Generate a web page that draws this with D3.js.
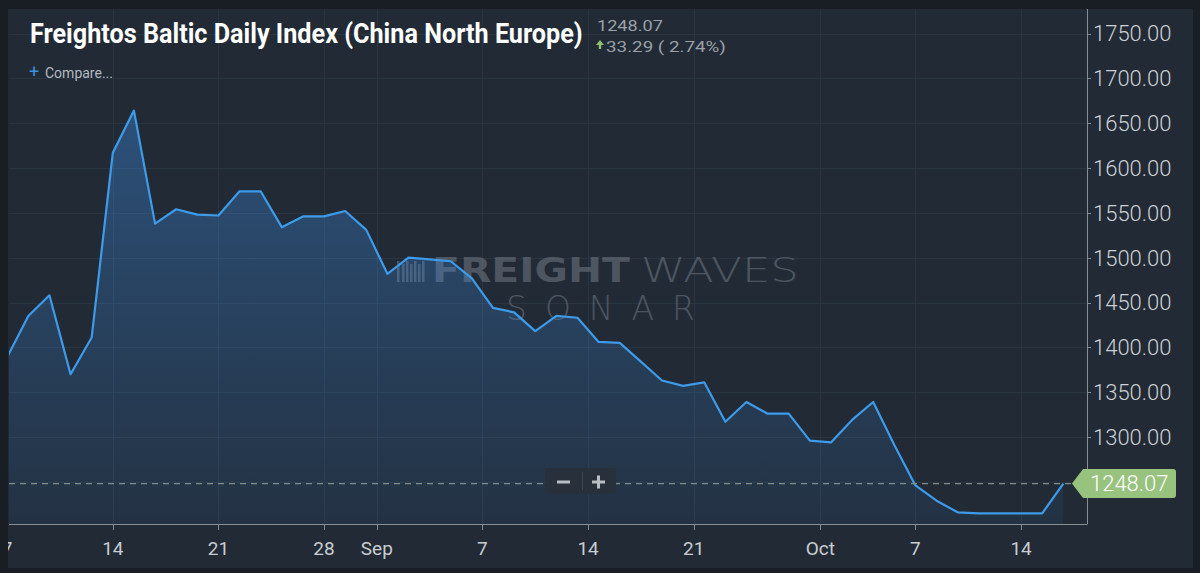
<!DOCTYPE html>
<html>
<head>
<meta charset="utf-8">
<script src="https://cdn.jsdelivr.net/npm/d3@7"></script>
<style>
  html, body { margin: 0; padding: 0; background: #191e24; }
  svg { display: block; }
</style>
</head>
<body>
<svg id="chart" width="1200" height="573"></svg>
<script>
// FBX China - North Europe, one value per trading day (index order)
const values = [
  1389, 1435, 1458, 1370, 1411, 1617, 1664, 1538, 1554, 1548,
  1547, 1574, 1574, 1534, 1546, 1546, 1552, 1531, 1482, 1500,
  1498, 1496, 1477, 1444, 1439, 1418, 1435, 1433, 1406, 1405,
  1384, 1363, 1357, 1361, 1317, 1339, 1326, 1326, 1296, 1294,
  1319, 1339, 1291, 1246, 1229, 1216, 1214.78, 1214.78, 1214.78, 1214.78,
  1248.07,
];

// x tick labels and where they fall on the trading-day index
const tickLabels = ['7', '14', '21', '28', 'Sep', '7', '14', '21', 'Oct', '7', '14'];
const tickIndex = [0, 5, 10, 15, 17.5, 22.5, 27.5, 32.5, 38.5, 43, 48];

const yTicks = [1300, 1350, 1400, 1450, 1500, 1550, 1600, 1650, 1700, 1750];

const lastValue = 1248.07;
const change = 33.29;
const changePct = 2.74;

const svg = d3.select('#chart');

const plot = { left: 9, right: 1087, top: 9, bottom: 524 };

const xScale = d3.scaleLinear()
  .domain([0, values.length - 1])
  .range([7.2, 1063.3]);

const yScale = d3.scaleLinear()
  .domain([1300, 1750])
  .range([437, 33.5]);

// squeeze a text horizontally so it is exactly `width` wide
function fitText(sel, x, y, width) {
  const len = sel.node().getComputedTextLength();
  sel.attr('transform', `translate(${x},${y}) scale(${width / len},1)`);
  return sel;
}

// panel
svg.append('rect')
  .attr('x', 8).attr('y', 9)
  .attr('width', 1185).attr('height', 559)
  .attr('fill', '#212a35');

const defs = svg.append('defs');
defs.append('clipPath').attr('id', 'plotClip')
  .append('rect')
  .attr('x', plot.left).attr('y', plot.top)
  .attr('width', plot.right - plot.left)
  .attr('height', plot.bottom - plot.top);

defs.append('clipPath').attr('id', 'panelClip')
  .append('rect')
  .attr('x', 8).attr('y', 9)
  .attr('width', 1185).attr('height', 559);

const grad = defs.append('linearGradient')
  .attr('id', 'areaFill')
  .attr('gradientUnits', 'userSpaceOnUse')
  .attr('x1', 0).attr('x2', 0)
  .attr('y1', yScale(d3.max(values)))
  .attr('y2', plot.bottom);
grad.append('stop').attr('offset', 0).attr('stop-color', '#3d8be0').attr('stop-opacity', 0.4);
grad.append('stop').attr('offset', 1).attr('stop-color', '#3d8be0').attr('stop-opacity', 0.08);

// grid
const grid = svg.append('g').attr('clip-path', 'url(#plotClip)');
grid.selectAll('line.h')
  .data([1250].concat(yTicks))
  .enter()
  .append('line')
  .attr('x1', plot.left).attr('x2', plot.right)
  .attr('y1', (d) => Math.round(yScale(d)) + 0.5)
  .attr('y2', (d) => Math.round(yScale(d)) + 0.5)
  .attr('stroke', '#2a3542');
grid.selectAll('line.v')
  .data(tickIndex)
  .enter()
  .append('line')
  .attr('y1', plot.top).attr('y2', plot.bottom)
  .attr('x1', (d) => Math.round(xScale(d)) + 0.5)
  .attr('x2', (d) => Math.round(xScale(d)) + 0.5)
  .attr('stroke', '#2a3542');

// watermark
const wm = svg.append('g').attr('opacity', 0.6);
[0, 5, 9, 13, 17, 21, 25].forEach((dx, i) => {
  wm.append('rect')
    .attr('x', 397 + dx).attr('y', 261 + (i % 2) * 3)
    .attr('width', 2.5).attr('height', 21 - (i % 2) * 3)
    .attr('fill', '#6b737d');
});
fitText(wm.append('text')
  .style('font', '900 33px "DejaVu Sans"')
  .attr('fill', '#6b737d')
  .text('FREIGHT'), 432, 282, 198);
fitText(wm.append('text')
  .style('font', '200 33px "DejaVu Sans"')
  .attr('fill', '#6b737d')
  .text('WAVES'), 641, 282, 158);
wm.append('text')
  .attr('x', 506).attr('y', 320)
  .attr('textLength', 189).attr('lengthAdjust', 'spacing')
  .style('font', '200 33px "DejaVu Sans"')
  .attr('fill', '#6b737d')
  .text('SONAR');

// area + line
const series = svg.append('g').attr('clip-path', 'url(#plotClip)');

const area = d3.area()
  .x((d, i) => xScale(i))
  .y0(plot.bottom)
  .y1((d) => yScale(d));

const line = d3.line()
  .x((d, i) => xScale(i))
  .y((d) => yScale(d));

series.append('path')
  .datum(values)
  .attr('d', area)
  .attr('fill', 'url(#areaFill)');

series.append('path')
  .datum(values)
  .attr('d', line)
  .attr('fill', 'none')
  .attr('stroke', '#3d9be9')
  .attr('stroke-width', 2.2)
  .attr('stroke-linejoin', 'round');

// current price dashed line
svg.append('line')
  .attr('x1', plot.left).attr('x2', 1072)
  .attr('y1', yScale(lastValue)).attr('y2', yScale(lastValue))
  .attr('stroke', '#7f8b86')
  .attr('stroke-width', 1.2)
  .attr('stroke-dasharray', '6,5');

// zoom control
const zoomCtl = svg.append('g');
zoomCtl.append('rect')
  .attr('x', 545).attr('y', 468)
  .attr('width', 71).attr('height', 26)
  .attr('rx', 3)
  .attr('fill', '#28313b');
zoomCtl.append('line')
  .attr('x1', 582.5).attr('x2', 582.5)
  .attr('y1', 472).attr('y2', 490)
  .attr('stroke', '#3a444f');
zoomCtl.append('rect')
  .attr('x', 557).attr('y', 480.5)
  .attr('width', 13).attr('height', 3)
  .attr('fill', '#b8bec4');
zoomCtl.append('rect')
  .attr('x', 592).attr('y', 480.5)
  .attr('width', 13).attr('height', 3)
  .attr('fill', '#b8bec4');
zoomCtl.append('rect')
  .attr('x', 597).attr('y', 475.5)
  .attr('width', 3).attr('height', 13)
  .attr('fill', '#b8bec4');

// x axis
const xAxis = svg.append('g').attr('clip-path', 'url(#panelClip)');
xAxis.append('line')
  .attr('x1', plot.left).attr('x2', plot.right)
  .attr('y1', plot.bottom + 0.5).attr('y2', plot.bottom + 0.5)
  .attr('stroke', '#868d94');
xAxis.selectAll('line.tick')
  .data(tickIndex)
  .enter()
  .append('line')
  .attr('x1', (d) => Math.round(xScale(d)) + 0.5)
  .attr('x2', (d) => Math.round(xScale(d)) + 0.5)
  .attr('y1', plot.bottom).attr('y2', plot.bottom + 6)
  .attr('stroke', '#868d94');
xAxis.selectAll('text')
  .data(tickIndex)
  .enter()
  .append('text')
  .attr('x', (d) => xScale(d))
  .attr('y', 555)
  .attr('text-anchor', 'middle')
  .style('font', '19px "Liberation Sans Narrow", "Roboto", sans-serif')
  .attr('fill', '#c9cdd1')
  .text((d, i) => tickLabels[i]);

// y axis
const yAxis = svg.append('g');
yAxis.append('line')
  .attr('x1', plot.right + 0.5).attr('x2', plot.right + 0.5)
  .attr('y1', plot.top).attr('y2', plot.bottom + 0.5)
  .attr('stroke', '#868d94');
yAxis.selectAll('line.tick')
  .data(yTicks)
  .enter()
  .append('line')
  .attr('x1', plot.right).attr('x2', plot.right + 4)
  .attr('y1', (d) => Math.round(yScale(d)) + 0.5)
  .attr('y2', (d) => Math.round(yScale(d)) + 0.5)
  .attr('stroke', '#868d94');
yAxis.selectAll('text')
  .data(yTicks)
  .enter()
  .append('text')
  .attr('x', 1093)
  .attr('y', (d) => yScale(d))
  .attr('dy', '0.36em')
  .style('font', '300 22px "Roboto", sans-serif')
  .attr('fill', '#cdd1d5')
  .text((d) => d3.format('.2f')(d));

// current price tag
const yLast = yScale(lastValue);
svg.append('path')
  .attr('d', `M1072,${yLast} L1083,${yLast - 14.5} L1173,${yLast - 14.5} Q1176,${yLast - 14.5} 1176,${yLast - 11.5}
    L1176,${yLast + 11.5} Q1176,${yLast + 14.5} 1173,${yLast + 14.5} L1083,${yLast + 14.5} Z`)
  .attr('fill', '#98c37e');
svg.append('text')
  .attr('x', 1090)
  .attr('y', yLast)
  .attr('dy', '0.36em')
  .style('font', '300 22px "Roboto", sans-serif')
  .attr('fill', '#ffffff')
  .text(d3.format('.2f')(lastValue));

// header
fitText(svg.append('text')
  .style('font', 'bold 28px "Liberation Sans Narrow", "Roboto", sans-serif')
  .attr('fill', '#ffffff')
  .text('Freightos Baltic Daily Index (China North Europe)'), 30, 43, 553);

fitText(svg.append('text')
  .style('font', '15px "Liberation Sans Narrow", "Roboto", sans-serif')
  .attr('fill', '#9aa1a8')
  .text(d3.format('.2f')(lastValue)), 597, 31, 66);

svg.append('path')
  .attr('d', 'M600,40 L604,45 L601.2,45 L601.2,49 L598.8,49 L598.8,45 L596,45 Z')
  .attr('fill', '#8fc071');

fitText(svg.append('text')
  .style('font', '15px "Liberation Sans Narrow", "Roboto", sans-serif')
  .attr('fill', '#9aa1a8')
  .text(`${change.toFixed(2)} ( ${changePct.toFixed(2)}%)`), 606, 52, 120);

svg.append('text')
  .attr('x', 29).attr('y', 78)
  .style('font', '18px "Roboto", sans-serif')
  .attr('fill', '#3d8fe0')
  .text('+');
fitText(svg.append('text')
  .style('font', '14px "Liberation Sans Narrow", "Roboto", sans-serif')
  .attr('fill', '#b3bac1')
  .text('Compare...'), 45, 78, 68);
</script>
</body>
</html>
